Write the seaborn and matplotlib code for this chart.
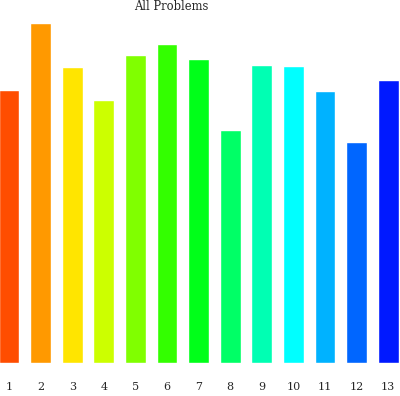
import colorsys
import seaborn as sns
import matplotlib.pyplot as plt
import pandas as pd

problemas = [str(i) for i in range(1, 14)]
valores = [273, 340, 296, 263, 308, 319, 304, 233, 298, 297, 272, 221, 283]
tonos = [18 * (i + 1) for i in range(13)]

colores = [colorsys.hsv_to_rgb(h / 360, 1, 1) for h in tonos]
df = pd.DataFrame({'problema': problemas, 'valor': valores})

sns.set_style("white")
plt.rcParams['font.family'] = ['DejaVu Serif']

fig = plt.figure(figsize=(4, 3.96), dpi=100)
ax = fig.add_axes([0, 33 / 396, 1, 363 / 396])
sns.barplot(data=df, x='problema', y='valor', hue='problema', palette=colores,
            legend=False, width=0.66, edgecolor='white', linewidth=1, saturation=1, ax=ax)
ax.set_xlim(-0.285, 12.375)
ax.set_ylim(0, 363)
ax.set_yticks([])
ax.set_xlabel('')
ax.set_ylabel('')
ax.tick_params(axis='x', length=0, pad=13.5, labelsize=8)
sns.despine(ax=ax, left=True, bottom=True)
fig.text(171 / 400, 1 - 7 / 396, 'All Problems', ha='center', va='center', fontsize=8.3)
fig.savefig('out.png', dpi=100)
